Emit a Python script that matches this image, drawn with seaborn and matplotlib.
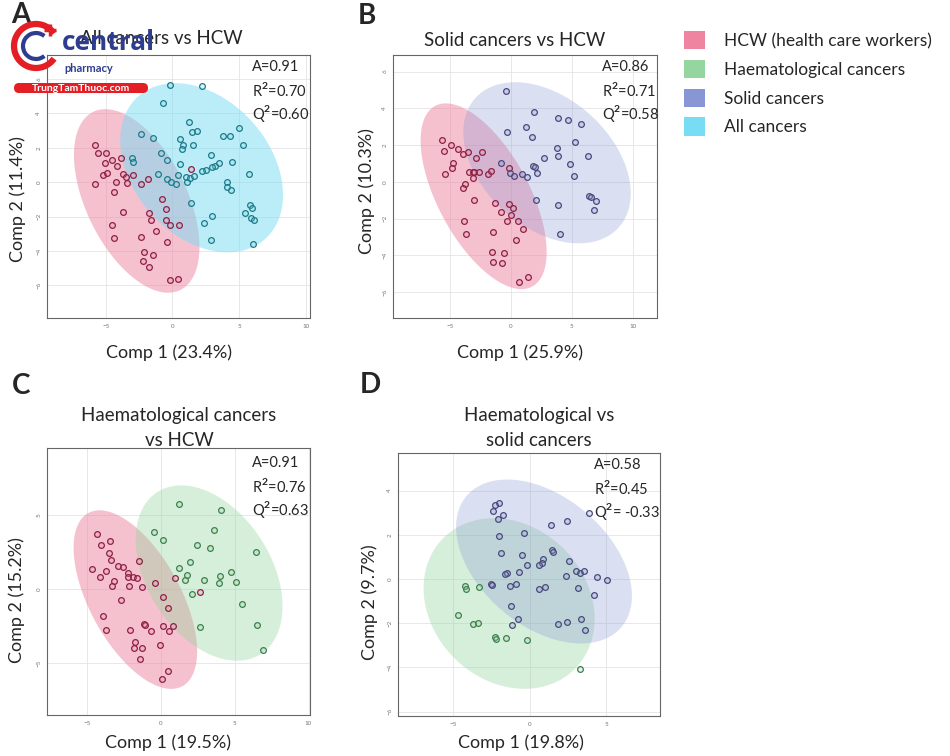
import numpy as np
import pandas as pd
import matplotlib
matplotlib.use("Agg")
import matplotlib.pyplot as plt
from matplotlib.patches import Patch, Arc, FancyBboxPatch
import seaborn as sns

# ---- data (PLS-DA scores) ----
a_hcw_x = [-5.80, -5.58, -4.98, -4.53, -5.03, -4.18, -3.85, -5.23, -4.93, -5.80, -4.20, -3.68, -3.48,
           -3.43, -2.93, -4.38, -3.73, -4.53, -4.40, -2.38, -1.80, -1.78, -1.60, -1.23, -2.35, -2.13,
           -1.43, -2.23, -1.75, -0.20, 0.43, -0.75, -0.50, -0.50, -0.15, 0.48, -0.38, 1.38]
a_hcw_y = [2.19, 1.71, 1.69, 1.30, 1.11, 0.97, 1.40, 0.43, 0.56, -0.08, 0.00, 0.49, 0.29,
           -0.04, 0.41, -0.58, -1.75, -2.49, -3.24, -0.12, 0.16, -1.79, -2.21, -2.85, -3.20, -4.08,
           -4.21, -4.58, -4.95, -5.69, -5.63, -0.95, -1.57, -2.21, -2.49, -2.49, -3.50, 0.78]
a_all_x = [-0.18, 2.18, -0.68, 1.20, 1.48, 1.80, 4.98, -2.33, -1.43, 0.53, 0.78, 0.73, 1.53, 3.80,
           4.30, 5.25, -0.83, -0.38, 0.58, 2.90, 4.48, 3.50, 3.20, 2.93, 2.50, 2.18, -1.08, -0.43,
           -0.13, 0.23, 0.43, 1.00, 1.08, 1.33, 1.63, 5.75, 4.10, 4.10, 4.40, 1.40, 2.33, 2.95,
           2.90, 5.40, 5.83, 5.98, 5.88, 6.13, 6.05, -3.03, -2.98]
a_all_y = [5.63, 5.61, 4.60, 3.48, 2.91, 2.95, 3.17, 2.82, 2.60, 2.49, 2.19, 1.92, 2.17, 2.68,
           2.66, 2.19, 1.67, 1.32, 1.03, 1.57, 1.20, 1.11, 0.95, 0.89, 0.70, 0.64, 0.50, 0.16,
           0.04, -0.08, 0.41, 0.29, 0.00, 0.27, 0.35, 0.45, 0.04, -0.27, -0.43, -1.22, -2.35, -1.94,
           -3.36, -1.79, -1.30, -1.48, -2.06, -2.21, -3.61, 1.40, 1.18]

b_hcw_x = [-5.70, -5.53, -4.93, -4.33, -3.95, -3.56, -2.88, -2.41, -4.79, -4.85, -5.45, -3.45, -3.15,
           -3.01, -3.12, -2.63, -1.89, -1.62, -3.81, -3.95, -3.04, -3.84, -3.73, -1.34, -1.48, -0.85,
           -0.19, 0.14, 0.00, -0.36, 0.58, 0.99, 0.38, -1.56, -1.45, -0.60, -0.77, 0.66, 1.37, -0.16]
b_hcw_y = [2.26, 1.70, 1.99, 1.77, 1.50, 1.62, 1.32, 1.62, 1.03, 0.76, 0.43, 0.56, 0.52,
           0.52, 0.22, 0.56, 0.43, 0.58, -0.13, -0.31, -1.01, -2.11, -2.85, -1.17, -2.73, -1.66,
           -1.21, -1.43, -1.79, -2.11, -2.11, -2.55, -3.14, -3.83, -4.35, -3.88, -4.40, -5.45, -5.16, 0.76]
b_solid_x = [-0.38, 1.89, 1.26, -0.36, 1.75, 3.89, 4.68, 5.78, 5.29, 3.75, 3.86, 2.74, 6.36, 1.84,
             1.97, 4.88, 5.15, 0.88, 1.29, 2.11, 2.03, 3.89, 4.03, 6.38, 6.55, 6.99, 6.82, -0.79,
             -0.11, 0.27]
b_solid_y = [4.96, 3.81, 3.01, 2.69, 2.42, 3.48, 3.38, 3.14, 2.15, 1.84, 1.43, 1.32, 1.43, 0.87,
             0.79, 0.97, 0.32, 0.42, 0.29, 0.47, -0.96, -1.28, -2.83, -0.78, -0.81, -1.05, -1.53, 1.03,
             0.51, 0.31]

c_hcw_x = [-4.31, -3.41, -4.04, -3.52, -3.36, -4.63, -4.13, -3.70, -2.91, -2.55, -3.14, -3.27, -2.21,
           -2.21, -1.87, -1.58, -1.47, -2.14, -1.29, -2.69, -0.38, 0.16, 0.52, -3.88, -3.70, -2.10,
           -1.13, -1.06, -0.68, 0.14, 0.59, 0.84, -1.72, -1.83, -1.26, -1.38, -0.05, 0.52, 0.07,
           0.99, 2.64]
c_hcw_y = [3.67, 3.20, 2.93, 2.42, 1.95, 1.36, 0.81, 1.21, 1.52, 1.45, 0.51, 0.22, 1.05,
           0.83, 0.78, 0.74, 1.88, 0.22, 0.16, -0.76, 0.43, -0.56, -1.32, -1.81, -2.77, -2.77,
           -2.37, -2.44, -2.82, -2.53, -2.82, -2.53, -3.60, -4.00, -4.00, -4.70, -3.80, -5.55, -6.04,
           0.74, -0.22]
c_haem_x = [1.22, 4.09, -0.45, 0.18, 3.59, 2.44, 3.30, 2.01, 1.22, 1.78, 1.63, 2.93, 4.74, 3.98,
            3.94, 5.06, 2.14, 5.49, 6.46, 6.50, 2.64, 6.91]
c_haem_y = [5.70, 5.35, 3.83, 3.29, 3.98, 2.93, 2.77, 1.79, 1.43, 0.96, 0.60, 0.58, 1.16, 0.85,
            0.43, 0.49, -0.36, -1.05, 2.48, -2.42, -2.55, -4.12]

d_solid_x = [-1.98, -2.24, -2.42, -1.74, -2.07, 3.86, 1.39, 2.42, -0.37, -1.98, -1.87, -0.52, 1.44,
             1.53, 0.89, 0.78, 0.61, -0.17, -0.72, -1.50, -1.59, 2.55, 3.03, 3.25, 3.51, 2.37,
             4.38, 5.06, -2.51, -2.44, -1.31, -0.92, 0.63, 0.98, 3.18, 4.16, -1.24, -0.74, -1.15,
             1.85, 2.40, 3.36, 3.59]
d_solid_y = [3.45, 3.33, 3.09, 2.88, 2.73, 2.98, 2.44, 2.64, 2.08, 1.94, 1.17, 1.09, 1.29,
             1.24, 0.92, 0.73, 0.61, 0.61, 0.33, 0.26, 0.23, 0.80, 0.35, 0.26, 0.36, 0.15,
             0.08, -0.05, -0.23, -0.29, -0.33, -0.23, -0.45, -0.38, -0.41, -0.71, -1.21, -1.79, -2.09,
             -2.05, -1.95, -1.82, -2.29]
d_haem_x = [-4.20, -4.18, -3.33, -4.68, -3.68, -3.36, -2.27, -2.22, -1.53, -0.20, 3.31]
d_haem_y = [-0.30, -0.44, -0.35, -1.65, -2.02, -1.98, -2.61, -2.73, -2.68, -2.77, -4.06]

# confidence ellipses: centre x, centre y, half x-extent, half y-extent, correlation
ell_a = {"hcw": (-2.68, -1.09, 4.70, 5.34, -0.50), "all": (2.18, 0.84, 6.10, 4.92, -0.32)}
ell_b = {"hcw": (-2.25, -0.78, 5.18, 5.05, -0.60), "solid": (2.96, 1.04, 6.88, 4.38, -0.38)}
ell_c = {"hcw": (-1.72, -0.72, 4.18, 6.02, -0.58), "haem": (3.27, 1.07, 4.97, 5.91, -0.38)}
ell_d = {"haem": (-1.35, -1.11, 5.58, 3.86, -0.18), "solid": (0.93, 0.79, 5.74, 3.71, -0.42)}

titles = ["All cancers vs HCW", "Solid cancers vs HCW", "Haematological cancers\nvs HCW",
          "Haematological vs\nsolid cancers"]
xlabels = ["Comp 1 (23.4%)", "Comp 1 (25.9%)", "Comp 1 (19.5%)", "Comp 1 (19.8%)"]
ylabels = ["Comp 2 (11.4%)", "Comp 2 (10.3%)", "Comp 2 (15.2%)", "Comp 2 (9.7%)"]
stats = [["A=0.91", "R$^{\\mathbf{2}}$=0.70", "Q$^{\\mathbf{2}}$=0.60"],
         ["A=0.86", "R$^{\\mathbf{2}}$=0.71", "Q$^{\\mathbf{2}}$=0.58"],
         ["A=0.91", "R$^{\\mathbf{2}}$=0.76", "Q$^{\\mathbf{2}}$=0.63"],
         ["A=0.58", "R$^{\\mathbf{2}}$=0.45", "Q$^{\\mathbf{2}}$= -0.33"]]
legend_labels = ["HCW (health care workers)", "Haematological cancers", "Solid cancers", "All cancers"]

# ---- styling ----
colors = {"hcw": "#EE849F", "haem": "#95D59F", "solid": "#8896D6", "all": "#78DCF5"}
edges = {"hcw": "#8B2246", "haem": "#3F7F50", "solid": "#4A4A7A", "all": "#1F7A85"}
fill_alpha = {"hcw": 0.5, "haem": 0.38, "solid": 0.3, "all": 0.5}

sns.set_style("white")
plt.rcParams["font.family"] = ["Lato", "DejaVu Sans"]
plt.rcParams["mathtext.fontset"] = "custom"
plt.rcParams["mathtext.rm"] = "Lato"
plt.rcParams["mathtext.bf"] = "Lato:bold"

W, H = 950, 756
fig = plt.figure(figsize=(9.5, 7.56), dpi=100)


def fx(px):
    return px / W


def fy(py):
    return 1 - py / H


def add_ax(l, t, r, b):
    return fig.add_axes([fx(l), fy(b), (r - l) / W, (b - t) / H])


def draw_ellipse(ax, params, key):
    cx, cy, sx, sy, r = params
    t = np.linspace(0, 2 * np.pi, 200)
    ex = cx + sx * np.cos(t)
    ey = cy + sy * (r * np.cos(t) + np.sqrt(1 - r ** 2) * np.sin(t))
    ax.fill(ex, ey, color=colors[key], alpha=fill_alpha[key], lw=0, zorder=1)


def draw_points(ax, xs, ys, key):
    sns.scatterplot(x=xs, y=ys, ax=ax, s=17, color=colors[key], edgecolor=edges[key],
                    linewidth=0.9, legend=False, zorder=3)
    c = matplotlib.colors.to_rgba(colors[key], 0.25)
    ax.collections[-1].set_facecolor(c)


def style_ax(ax, xlim, ylim, xticks, yticks):
    ax.set_xlim(*xlim)
    ax.set_ylim(*ylim)
    ax.set_xticks(xticks)
    ax.set_yticks(yticks)
    ax.grid(True, color="#e4e4e4", lw=0.6)
    ax.set_axisbelow(True)
    ax.tick_params(labelsize=4.5, labelcolor="#777777", length=2, width=0.5, color="#888888", pad=2)
    for lab in ax.get_yticklabels():
        lab.set_rotation(90)
        lab.set_va("center")
    for sp in ax.spines.values():
        sp.set_color("#666666")
        sp.set_linewidth(0.8)
    ax.set_xlabel("")
    ax.set_ylabel("")


axA = add_ax(47, 55, 310, 318)
draw_ellipse(axA, ell_a["hcw"], "hcw")
draw_ellipse(axA, ell_a["all"], "all")
draw_points(axA, a_hcw_x, a_hcw_y, "hcw")
draw_points(axA, a_all_x, a_all_y, "all")
style_ax(axA, (-9.4, 10.3), (-7.9, 7.4), [-5, 0, 5, 10], [-6, -4, -2, 0, 2, 4, 6])

axB = add_ax(393, 55, 657, 318)
draw_ellipse(axB, ell_b["hcw"], "hcw")
draw_ellipse(axB, ell_b["solid"], "solid")
draw_points(axB, b_hcw_x, b_hcw_y, "hcw")
draw_points(axB, b_solid_x, b_solid_y, "solid")
style_ax(axB, (-9.7, 12.0), (-7.4, 6.9), [-5, 0, 5, 10], [-6, -4, -2, 0, 2, 4, 6])

axC = add_ax(47, 448, 310, 715)
draw_ellipse(axC, ell_c["hcw"], "hcw")
draw_ellipse(axC, ell_c["haem"], "haem")
draw_points(axC, c_hcw_x, c_hcw_y, "hcw")
draw_points(axC, c_haem_x, c_haem_y, "haem")
style_ax(axC, (-7.7, 10.1), (-8.5, 9.5), [-5, 0, 5, 10], [-5, 0, 5])

axD = add_ax(398, 453, 660, 716)
draw_ellipse(axD, ell_d["haem"], "haem")
draw_ellipse(axD, ell_d["solid"], "solid")
draw_points(axD, d_haem_x, d_haem_y, "haem")
draw_points(axD, d_solid_x, d_solid_y, "solid")
style_ax(axD, (-8.6, 8.5), (-6.2, 5.7), [-5, 0, 5], [-6, -4, -2, 0, 2, 4])

# panel texts (pixel positions)
letters = [("A", 21, 15), ("B", 367, 16), ("C", 21, 386), ("D", 370, 385)]
for s, x, y in letters:
    fig.text(fx(x), fy(y), s, fontsize=20, fontweight="bold", ha="center", va="center")

title_pos = [(161, 38), (515, 40), (179, 428), (539, 428)]
for s, (x, y) in zip(titles, title_pos):
    fig.text(fx(x), fy(y), s, fontsize=13.5, ha="center", va="center", linespacing=1.6)

xlab_pos = [(169, 353), (520, 353), (168, 743), (521, 743)]
for s, (x, y) in zip(xlabels, xlab_pos):
    fig.text(fx(x), fy(y), s, fontsize=13, ha="center", va="center")

ylab_pos = [(18, 199), (367, 191), (17, 600), (370, 602)]
for s, (x, y) in zip(ylabels, ylab_pos):
    fig.text(fx(x), fy(y), s, fontsize=13, ha="center", va="center", rotation=90)

stat_pos = [(252, 67), (602, 67), (252, 463), (594, 465)]
for lines, (x, y) in zip(stats, stat_pos):
    for i, s in enumerate(lines):
        fig.text(fx(x), fy(y + i * 23.5), s, fontsize=10.5, ha="left", va="center")

handles = [Patch(facecolor=colors[k], edgecolor="none") for k in ["hcw", "haem", "solid", "all"]]
fig.legend(handles=handles, labels=legend_labels, loc="upper left", bbox_to_anchor=(fx(684), fy(31)),
           frameon=False, fontsize=12.5, handlelength=1.2, handleheight=1.25, handletextpad=1.1,
           labelspacing=0.6, borderaxespad=0, borderpad=0)

# watermark logo in the top-left corner
lg = fig.add_axes([0, 0, 1, 1], zorder=10)
lg.set_xlim(0, W)
lg.set_ylim(H, 0)
lg.axis("off")
lg.add_patch(Arc((36, 46), 44, 44, theta1=35, theta2=325, color="#E31E24", lw=4.5))
lg.add_patch(Arc((36, 46), 26, 26, theta1=50, theta2=310, color="#2E3D8F", lw=3))
lg.plot([50, 50], [24, 36], color="#E31E24", lw=2.5, solid_capstyle="butt")
lg.plot([44, 56], [30, 30], color="#E31E24", lw=2.5, solid_capstyle="butt")
lg.text(62, 50, "central", fontsize=19, fontweight="bold", color="#2E3D8F", va="baseline",
        family=["Open Sans", "DejaVu Sans"])
lg.text(64, 72, "pharmacy", fontsize=8, fontweight="bold", color="#2E3D8F", va="baseline")
lg.add_patch(FancyBboxPatch((14, 83), 134, 10, boxstyle="round,pad=0,rounding_size=5",
                            fc="#E31E24", ec="none"))
lg.text(81, 88.5, "TrungTamThuoc.com", fontsize=7.5, fontweight="bold", color="white",
        ha="center", va="center")

fig.savefig("out.png", dpi=100, facecolor="white")
